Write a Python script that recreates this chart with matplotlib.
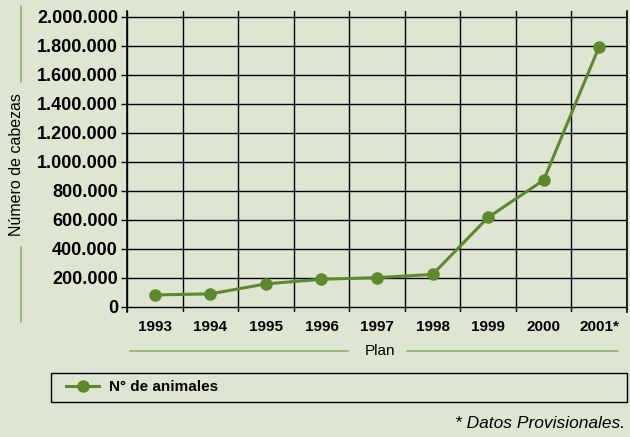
import matplotlib
matplotlib.use("Agg")
from matplotlib import pyplot as plt
from matplotlib.lines import Line2D
from matplotlib.legend_handler import HandlerLine2D
from matplotlib.ticker import FuncFormatter
import numpy as np

# data
years = ["1993", "1994", "1995", "1996", "1997", "1998", "1999", "2000", "2001*"]
animales = [81000, 88000, 157000, 189000, 200000, 222000, 616000, 873000, 1795000]
y_ticks = list(range(0, 2000001, 200000))

bg = "#dfe5d3"
green = "#5c892d"
light_green = "#8fb36b"

plt.rcParams["font.family"] = ["Liberation Sans", "DejaVu Sans"]

fig = plt.figure(figsize=(6.3, 4.37), dpi=100, facecolor=bg)
W, H = 630, 437
ax = fig.add_axes([127 / W, 1 - 312 / H, 500 / W, 301 / H])
ax.set_facecolor(bg)

x = np.arange(len(years))
line, = ax.plot(x, animales, color=green, lw=2.2, marker="o", ms=8,
                mfc=green, mec=green, label="N° de animales", zorder=3)

ax.set_xlim(-0.5, len(years) - 0.5)
ax.set_ylim(-37000, 2040000)

# grid
ax.set_yticks(y_ticks)
ax.yaxis.set_major_formatter(FuncFormatter(lambda v, p: f"{int(v):,}".replace(",", ".")))
ax.grid(axis="y", which="major", color="black", lw=1.0)
ax.set_xticks(x)
ax.set_xticklabels(years)
ax.set_xticks(np.arange(-0.5, len(years)), minor=True)
ax.grid(axis="x", which="minor", color="black", lw=1.0)
ax.tick_params(axis="x", which="both", length=0, pad=6, labelsize=11)
ax.tick_params(axis="y", direction="out", length=4, width=1, pad=2.5, labelsize=13)
for t in ax.get_xticklabels() + ax.get_yticklabels():
    t.set_fontweight("bold")

for s in ["top", "bottom"]:
    ax.spines[s].set_visible(False)
for s in ["left", "right"]:
    ax.spines[s].set_color("black")
    ax.spines[s].set_linewidth(1.2)

# y label with decorative lines
fig.text(17 / W, 1 - 165 / H, "Número de cabezas", rotation=90,
         ha="center", va="center", fontsize=11.5)
fig.add_artist(Line2D([20.7 / W, 20.7 / W], [1 - 6 / H, 1 - 82 / H],
                      color=light_green, lw=1.2))
fig.add_artist(Line2D([20.7 / W, 20.7 / W], [1 - 247 / H, 1 - 322 / H],
                      color=light_green, lw=1.2))

# x label with decorative lines
fig.text(380 / W, 1 - 351 / H, "Plan", ha="center", va="center", fontsize=11)
fig.add_artist(Line2D([130 / W, 348 / W], [1 - 351 / H, 1 - 351 / H],
                      color=light_green, lw=1.2))
fig.add_artist(Line2D([407 / W, 618 / W], [1 - 351 / H, 1 - 351 / H],
                      color=light_green, lw=1.2))

# legend
leg = fig.legend(handles=[line], loc="lower left", mode="expand",
                 bbox_to_anchor=(51 / W, 1 - 402 / H, 576 / W, 32 / H),
                 frameon=True, fancybox=False, facecolor=bg, edgecolor="black",
                 prop={"weight": "bold", "size": 11}, handlelength=2.65,
                 borderpad=0.5, borderaxespad=0, handletextpad=0.65,
                 handler_map={line: HandlerLine2D(xpad=0.48)})
leg.get_frame().set_linewidth(1.0)
leg.get_frame().set_alpha(None)

fig.text(625 / W, 1 - 424 / H, "* Datos Provisionales.", ha="right", va="center",
         fontsize=12.5, style="italic")

fig.savefig("out.png", dpi=100, facecolor=bg)
